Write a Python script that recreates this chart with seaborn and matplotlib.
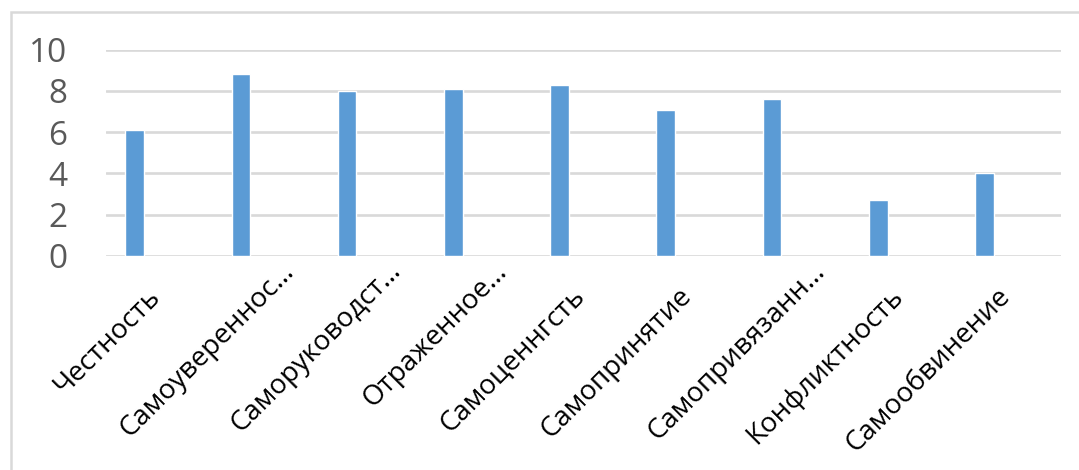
import numpy as np
import pandas as pd
import matplotlib.pyplot as plt
import matplotlib.transforms as mtransforms
from matplotlib.patches import Rectangle
import seaborn as sns

# data
categories = ["Честность", "Самоувереннос…", "Саморуководст…", "Отраженное…",
              "Самоценнгсть", "Самопринятие", "Самопривязанн…", "Конфликтность",
              "Самообвинение"]
values = [6.1, 8.8, 8.0, 8.1, 8.3, 7.1, 7.6, 2.7, 4.0]
y_ticks = [0, 2, 4, 6, 8, 10]

df = pd.DataFrame({"cat": categories, "val": values})

sns.set_style("white")
plt.rcParams['font.family'] = ['Open Sans', 'DejaVu Sans']

fig = plt.figure(figsize=(10.79, 4.70), dpi=100)
ax = fig.add_axes([106 / 1079, 1 - 256 / 470, (1061 - 106) / 1079, (256 - 49.7) / 470])

sns.barplot(data=df, x="cat", y="val", color="#5B9BD5", saturation=1,
            width=0.176, ax=ax)

ax.set_ylim(0, 10)
ax.set_xlim(-0.27, 8.72)
ax.set_yticks(y_ticks)
ax.yaxis.grid(True, color="#D9D9D9", linewidth=1.9)
ax.set_axisbelow(True)
for s in ax.spines.values():
    s.set_visible(False)
ax.set_xlabel("")
ax.set_ylabel("")
ax.tick_params(axis="y", length=0, pad=28, labelsize=24, labelcolor="#595959")
ax.tick_params(axis="x", length=0, pad=26)

# labels sit a bit to the right of the bars, like in the original
ax.set_xticks(np.arange(len(categories)) + 0.2)
ax.set_xticklabels(categories, rotation=45, ha="right", va="center",
                   rotation_mode="anchor", fontsize=20, color="black")
shift = mtransforms.ScaledTranslation(0.28, 0.25, fig.dpi_scale_trans)
for lbl in ax.get_xticklabels():
    if lbl.get_text().endswith("…"):
        lbl.set_transform(lbl.get_transform() + shift)

# outer chart border
fig.patches.append(Rectangle((11 / 1079, -0.1), 1.2, 1 - 12 / 470 + 0.1,
                             transform=fig.transFigure, fill=False,
                             edgecolor="#D9D9D9", linewidth=1.8))

fig.savefig("out.png", dpi=100)
